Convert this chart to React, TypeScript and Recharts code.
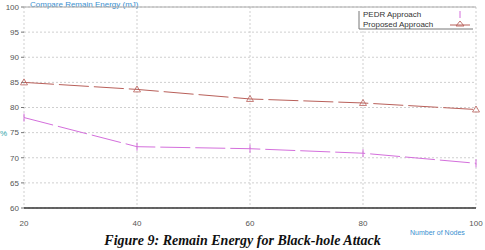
import React from "react";
import { LineChart, Line, XAxis, YAxis, CartesianGrid, ReferenceLine } from "recharts";

const nodes = [20, 40, 60, 80, 100];
const pedr = [78.0, 72.2, 71.8, 70.9, 68.9];
const proposed = [85.0, 83.6, 81.7, 80.9, 79.6];
const xTicks = [20, 40, 60, 80, 100];
const yTicks = [60, 65, 70, 75, 80, 85, 90, 95, 100];
const seriesNames = ["PEDR Approach", "Proposed Approach"];

const data = nodes.map((n, i) => ({ n, pedr: pedr[i], proposed: proposed[i] }));

const PEDR_COLOR = "#d46fdc";
const PROP_COLOR = "#b9605a";

const TriDot = (props: any) => {
  const { cx, cy } = props;
  if (cx == null || cy == null) return null;
  return (
    <path
      d={`M${cx},${cy - 3.5} L${cx + 3.5},${cy + 2.5} L${cx - 3.5},${cy + 2.5} Z`}
      fill="none"
      stroke={PROP_COLOR}
      strokeWidth={0.8}
    />
  );
};

const BarDot = (props: any) => {
  const { cx, cy } = props;
  if (cx == null || cy == null) return null;
  return <line x1={cx} y1={cy - 4} x2={cx} y2={cy + 4} stroke={PEDR_COLOR} strokeWidth={1} />;
};

const tickStyle = { fontSize: 8, fill: "#555", fontFamily: "Liberation Sans, Arial, sans-serif" };

export default function App() {
  return (
    <div style={{ position: "absolute", left: 0, top: 0, width: 485, height: 250, background: "#fff", overflow: "hidden" }}>
      <LineChart width={485} height={250} data={data} margin={{ top: 7, right: 9, bottom: 0, left: 0 }}>
        <CartesianGrid stroke="#cfcfcf" strokeDasharray="2 2" horizontal vertical />
        <ReferenceLine y={100} stroke="#aaa" strokeWidth={1} />
        <XAxis
          dataKey="n"
          type="number"
          domain={[20, 100]}
          ticks={xTicks}
          height={42}
          tick={tickStyle}
          tickLine={false}
          axisLine={{ stroke: "#333", strokeWidth: 1.5 }}
          tickMargin={6}
        />
        <YAxis
          type="number"
          domain={[60, 100]}
          ticks={yTicks}
          width={24}
          tick={tickStyle}
          tickSize={3}
          tickLine={{ stroke: "#777" }}
          axisLine={false}
          tickMargin={2}
        />
        <Line
          dataKey="proposed"
          stroke={PROP_COLOR}
          strokeWidth={1}
          strokeDasharray="30 5"
          dot={<TriDot />}
          isAnimationActive={false}
        />
        <Line
          dataKey="pedr"
          stroke={PEDR_COLOR}
          strokeWidth={1}
          strokeDasharray="30 5"
          dot={<BarDot />}
          isAnimationActive={false}
        />
        <text x={30} y={7} fontSize={8} fill="#3a8fd0" fontFamily="Liberation Sans, Arial, sans-serif">
          Compare Remain Energy (mJ)
        </text>
        <text x={0} y={136} fontSize={8} fill="#2aa3a8" fontFamily="Liberation Sans, Arial, sans-serif">
          %
        </text>
        <text x={410} y={235} fontSize={7} fill="#3a8fd0" fontFamily="Liberation Sans, Arial, sans-serif">
          Number of Nodes
        </text>
        <g>
          <rect x={359} y={8} width={114} height={21} fill="#fff" />
          <line x1={359} y1={11} x2={359} y2={29} stroke="#777" strokeWidth={1} />
          <line x1={359} y1={29} x2={473} y2={29} stroke="#777" strokeWidth={1} />
          <text x={363} y={17} fontSize={8} fill="#333" fontFamily="Liberation Sans, Arial, sans-serif">
            {seriesNames[0]}
          </text>
          <text x={363} y={27} fontSize={8} fill="#333" fontFamily="Liberation Sans, Arial, sans-serif">
            {seriesNames[1]}
          </text>
          <line x1={460} y1={11} x2={460} y2={18} stroke={PEDR_COLOR} strokeWidth={1} />
          <line x1={450} y1={25} x2={470} y2={25} stroke={PROP_COLOR} strokeWidth={1} />
          <path d="M460,21 L464,26 L456,26 Z" fill="none" stroke={PROP_COLOR} strokeWidth={0.9} />
        </g>
      </LineChart>
      <div
        style={{
          position: "absolute",
          left: 0,
          width: 485,
          top: 233,
          textAlign: "center",
          fontFamily: "Liberation Serif, Times New Roman, serif",
          fontWeight: "bold",
          fontStyle: "italic",
          fontSize: 14,
          lineHeight: "16px",
          color: "#111",
          whiteSpace: "nowrap",
        }}
      >
        Figure 9: Remain Energy for Black-hole Attack
      </div>
    </div>
  );
}
